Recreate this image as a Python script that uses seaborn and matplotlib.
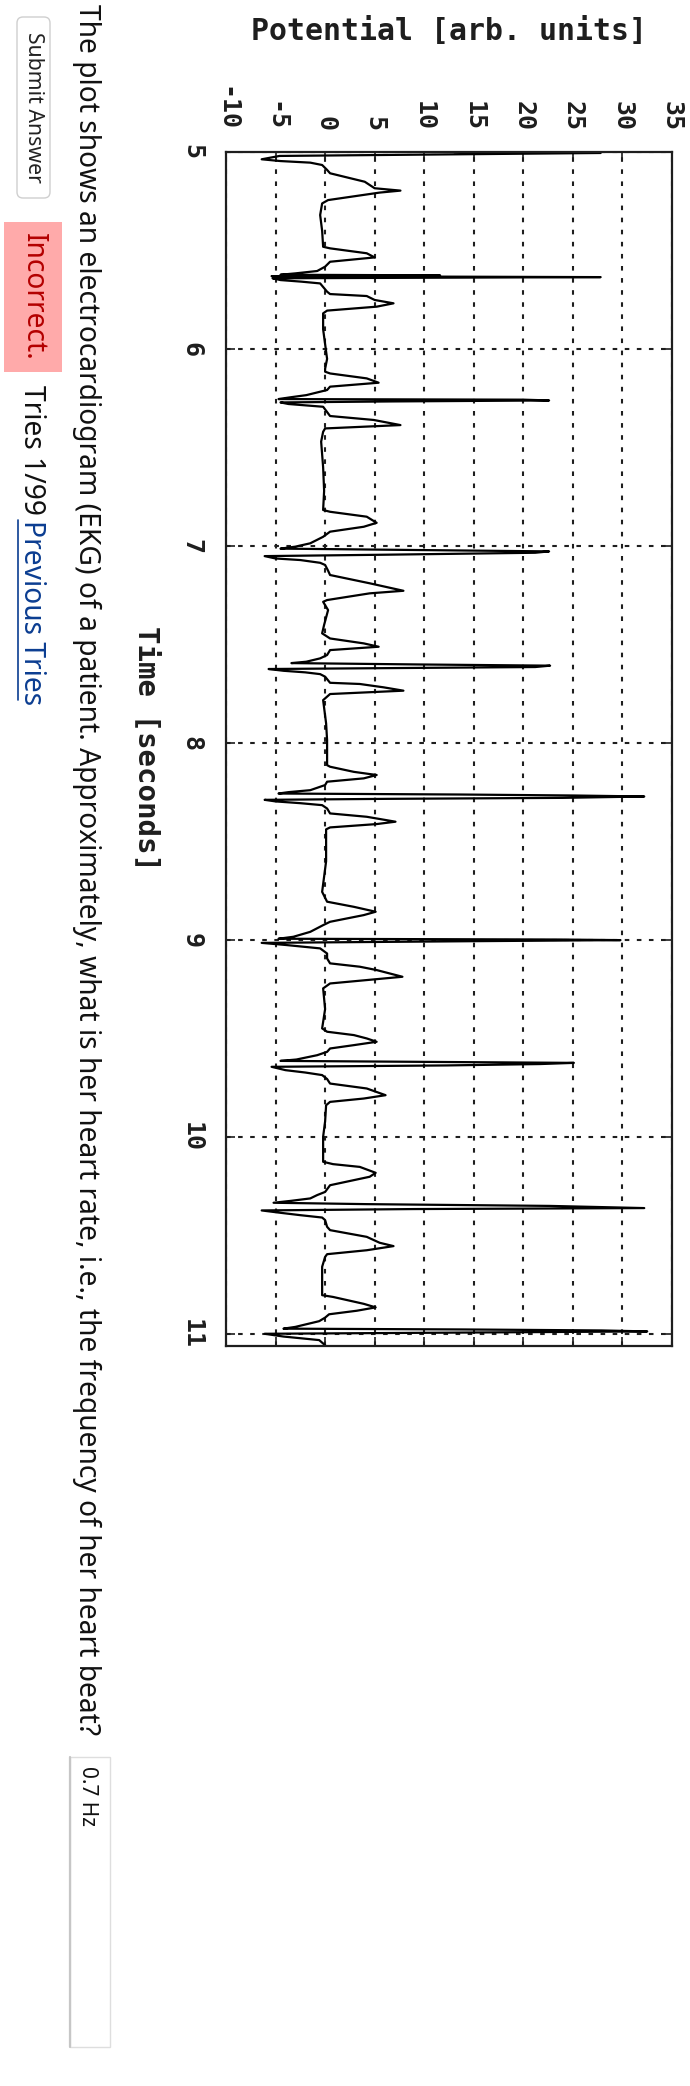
"""Rotated EKG homework page: gnuplot-style trace plus the page text around it."""
import matplotlib
matplotlib.use("Agg")
import matplotlib.pyplot as plt
from matplotlib.patches import FancyBboxPatch, Rectangle
import pandas as pd
import seaborn as sns

W, H = 690, 2086
DPI = 100

# EKG trace: time [s] and potential [arb. units]
time_s = [
    5.000, 5.005, 5.012, 5.020, 5.037, 5.046, 5.054, 5.066, 5.091, 5.108,
    5.151, 5.184, 5.196, 5.206, 5.244, 5.261, 5.320, 5.400, 5.481, 5.489,
    5.514, 5.535, 5.557, 5.582, 5.604, 5.616, 5.623, 5.626, 5.630, 5.635,
    5.641, 5.650, 5.658, 5.667, 5.709, 5.721, 5.731, 5.751, 5.768, 5.785,
    5.805, 5.819, 5.900, 6.050, 6.100,
    6.115, 6.124, 6.149, 6.171, 6.191, 6.208, 6.234, 6.245, 6.254, 6.257,
    6.261, 6.266, 6.271, 6.279, 6.286, 6.293, 6.320, 6.340, 6.360, 6.386,
    6.403, 6.420, 6.470, 6.600, 6.720, 6.817, 6.826, 6.851, 6.882, 6.902,
    6.927, 6.953,
    6.986, 7.003, 7.013, 7.020, 7.027, 7.034, 7.044, 7.051, 7.063, 7.071,
    7.085, 7.096, 7.125, 7.147, 7.189, 7.227, 7.240, 7.274, 7.283, 7.325,
    7.400, 7.443, 7.469, 7.494, 7.511, 7.528, 7.553, 7.570, 7.587, 7.594,
    7.601, 7.607, 7.614, 7.619, 7.624, 7.633, 7.641, 7.650, 7.663, 7.694,
    7.700, 7.717, 7.734, 7.751, 7.782, 7.900, 7.985,
    8.112, 8.120, 8.146, 8.162, 8.179, 8.196, 8.213, 8.239, 8.249, 8.256,
    8.261, 8.266, 8.271, 8.278, 8.283, 8.288, 8.296, 8.305, 8.315, 8.332,
    8.357, 8.374, 8.399, 8.411, 8.428, 8.438, 8.600, 8.755, 8.805, 8.831,
    8.856, 8.873, 8.907, 8.924, 8.958, 8.983, 8.993, 8.997, 9.000, 9.005,
    9.014, 9.025, 9.042, 9.068, 9.093, 9.118, 9.135, 9.152, 9.186, 9.203,
    9.220, 9.245, 9.350, 9.448, 9.465, 9.482, 9.499, 9.516, 9.533, 9.550,
    9.567, 9.584, 9.606, 9.613, 9.618, 9.623, 9.629, 9.636, 9.643, 9.660,
    9.672, 9.685, 9.705, 9.728, 9.753, 9.787, 9.804, 9.821, 9.838, 9.920,
    9.998, 10.125, 10.137, 10.151, 10.181, 10.201, 10.218, 10.244, 10.278, 10.294,
    10.311, 10.323, 10.333, 10.340, 10.349, 10.355, 10.360, 10.365, 10.372, 10.384,
    10.396, 10.408, 10.421, 10.455, 10.472, 10.506, 10.536, 10.553, 10.574, 10.594,
    10.608, 10.658, 10.802, 10.811, 10.846, 10.864, 10.881, 10.899, 10.916, 10.934,
    10.951, 10.963, 10.972, 10.976, 10.981, 10.986, 10.993, 10.998, 11.012, 11.030,
    11.056, 11.068,
]
potential = [
    13.0, 27.8, 12.9, -4.6, -6.4, -4.5, -1.5, -0.3, 0.2, 0.5,
    4.0, 5.0, 7.6, 5.5, 0.3, -0.3, -0.5, -0.3, -0.2, 0.5,
    4.2, 5.0, 0.5, 0.0, -0.8, -3.0, -4.5, 11.6, -5.4, 27.8,
    -5.3, -4.5, -2.4, -0.5, 0.2, 0.5, 4.2, 5.0, 6.9, 5.2,
    0.2, -0.2, -0.2, 0.2, 0.0,
    0.0, 0.5, 4.2, 5.4, 0.5, 0.2, -1.9, -3.5, -4.7, 20.0,
    22.6, 6.7, -4.5, -3.7, -2.0, -0.2, 0.2, 0.5, 4.9, 7.6,
    0.0, -0.2, -0.4, -0.2, -0.1, -0.2, 0.5, 4.2, 5.2, 3.9,
    0.5, -0.2,
    -1.5, -3.0, -4.5, 9.0, 22.6, 21.2, 5.9, -6.1, -5.0, -2.5,
    -0.5, 0.0, 0.3, 0.5, 4.5, 7.9, 4.5, 0.2, -0.2, 0.3,
    -0.1, -0.3, 0.5, 3.9, 5.4, 0.5, 0.2, -0.5, -1.9, -3.4,
    9.6, 22.7, 21.2, 7.2, -5.7, -4.2, -2.0, -0.5, 0.0, 0.5,
    3.5, 5.9, 7.9, 0.5, -0.2, 0.1, 0.2,
    0.2, 0.5, 2.9, 5.2, 3.9, 0.2, 0.0, -1.5, -3.7, -4.7,
    13.6, 25.1, 32.2, 24.0, 6.2, -6.1, -5.0, -2.5, -0.3, 0.2,
    0.5, 4.2, 7.1, 5.2, 0.5, 0.1, 0.1, -0.3, 0.2, 2.9,
    5.1, 3.9, 0.5, -0.2, -1.5, -3.2, -4.7, 23.8, 29.8, 16.0,
    -6.4, -3.9, -0.5, 0.2, 0.2, 0.5, 3.5, 5.2, 7.8, 4.2,
    0.5, -0.2, 0.0, -0.3, 0.2, 2.9, 4.2, 5.2, 2.9, 0.5,
    0.2, -0.8, -2.9, -4.5, 10.1, 25.1, 21.7, 12.3, -5.4, -4.0,
    -2.0, -0.3, 0.2, 0.5, 4.2, 6.1, 3.9, 0.5, 0.1, 0.0,
    -0.2, -0.2, 0.8, 3.5, 5.1, 4.5, 2.9, 0.5, 0.0, -0.8,
    -1.5, -3.4, -5.2, 4.2, 22.7, 28.1, 32.2, 8.9, -6.4, -4.5,
    -2.5, -0.3, 0.0, 0.2, 0.5, 4.2, 5.5, 6.9, 4.2, 0.2,
    0.0, -0.3, -0.3, 0.8, 3.9, 5.1, 3.2, 0.4, 0.0, -0.6,
    -2.0, -3.0, -4.2, 14.0, 27.9, 32.5, 9.1, -6.1, -4.2, -0.6,
    0.0, 0.1,
]

pot_ticks = list(range(-10, 36, 5))
time_ticks = list(range(5, 12))

QUESTION = ("The plot shows an electrocardiogram (EKG) of a patient. Approximately, "
            "what is her heart rate, i.e., the frequency of her heart beat?")
ANSWER = "0.7 Hz"

sns.set_style("white")
plt.rcParams["font.family"] = ["Noto Sans", "DejaVu Sans"]
plt.rcParams["axes.unicode_minus"] = False
MONO = "DejaVu Sans Mono"
INK = "#1e1e1e"
BODY = 20.3  # page text size

fig = plt.figure(figsize=(W / DPI, H / DPI), dpi=DPI)
fig.patch.set_facecolor("white")

# full-page overlay in pixel coordinates for the web-page furniture
page = fig.add_axes([0, 0, 1, 1], zorder=0)
page.set_xlim(0, W)
page.set_ylim(H, 0)
page.axis("off")

# plot frame (pixels)
L, R, T, B = 226, 672, 152, 1346
ax = fig.add_axes([L / W, 1 - B / H, (R - L) / W, (B - T) / H], zorder=1)

df = pd.DataFrame({"time": time_s, "potential": potential})
sns.lineplot(data=df, x="potential", y="time", orient="y", sort=False,
             estimator=None, color="black", lw=1.6, ax=ax)

ax.set_xlim(-10, 35)
ax.set_ylim(11.06, 5.0)
ax.set_xticks(pot_ticks)
ax.set_yticks(time_ticks)
ax.grid(True, color=INK, linestyle=(0, (2.2, 3.6)), linewidth=1.5)
ax.set_axisbelow(True)
ax.set_xlabel("")
ax.set_ylabel("")
for sp in ax.spines.values():
    sp.set_color(INK)
    sp.set_linewidth(1.6)

ax.tick_params(direction="in", length=6.5, width=1.2, color=INK,
               top=True, bottom=True, left=True, right=True,
               labeltop=True, labelbottom=False, labelleft=True, labelright=False)
ax.tick_params(axis="x", pad=15, labelrotation=-90)
ax.tick_params(axis="y", pad=16, labelrotation=-90)
for lab in ax.get_xticklabels() + ax.get_yticklabels():
    lab.set_fontfamily(MONO)
    lab.set_fontweight("bold")
    lab.set_fontsize(18)
    lab.set_color(INK)
for lab in ax.get_yticklabels():
    lab.set_va("center")

# axis titles (gnuplot labels, rotated with the page)
page.text(449, 31, "Potential [arb. units]", ha="center", va="center",
          family=MONO, weight="bold", size=21.5, color=INK)
page.text(147, 749, "Time [seconds]", ha="center", va="center", rotation=-90,
          family=MONO, weight="bold", size=21, color=INK)

# question text
page.text(87, 4, QUESTION, ha="center", va="top", rotation=-90,
          size=BODY, color="#111111")

# answer field
page.add_patch(Rectangle((70, 1757), 40, 290, facecolor="white",
                         edgecolor="#dedede", lw=1))
page.plot([70, 70], [1757, 2047], color="#c6c6c6", lw=1.6)
page.text(88, 1766, ANSWER, ha="center", va="top", rotation=-90,
          size=15, color="#111111")

# submit button
page.add_patch(FancyBboxPatch((17, 17), 33, 181,
                              boxstyle="round,pad=0,rounding_size=6",
                              facecolor="white", edgecolor="#cfcfcf", lw=1))
page.text(33.5, 107, "Submit Answer", ha="center", va="center", rotation=-90,
          size=15.3, color="#222222")

# feedback line
page.add_patch(Rectangle((4, 222), 58, 150, facecolor="#ffaaaa", edgecolor="none"))
page.text(33, 297, "Incorrect.", ha="center", va="center", rotation=-90,
          size=BODY, color="#b30000")
page.text(31, 385, "Tries 1/99", ha="center", va="top", rotation=-90,
          size=BODY, color="#111111")
page.text(31, 520, "Previous Tries", ha="center", va="top", rotation=-90,
          size=BODY, color="#0b3d91")
page.plot([18, 18], [520, 700], color="#0b3d91", lw=1.2)

fig.savefig("out.png", dpi=DPI, facecolor="white")
